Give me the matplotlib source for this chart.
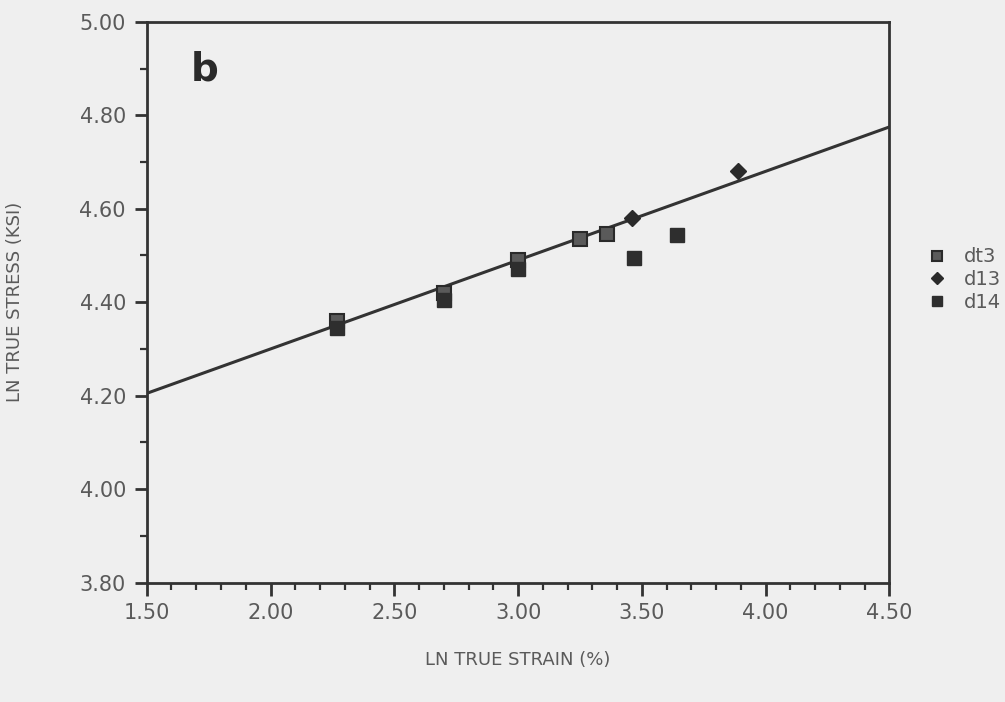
import numpy as np
from matplotlib import pyplot as plt
from matplotlib.ticker import MultipleLocator, FormatStrFormatter

# data
dt3_x = [2.27, 2.70, 3.00, 3.25, 3.36]
dt3_y = [4.36, 4.42, 4.49, 4.535, 4.545]
d13_x = [3.46, 3.89]
d13_y = [4.58, 4.68]
d14_x = [2.27, 2.70, 3.00, 3.47, 3.64]
d14_y = [4.345, 4.405, 4.47, 4.495, 4.543]
fit_x = [1.50, 4.50]
fit_y = [4.205, 4.775]

ink = '#333333'
txt = '#5a5a5a'
bg = '#efefef'

fig = plt.figure(figsize=(10.05, 7.02), dpi=100, facecolor=bg)
ax = fig.add_axes([0.146, 0.17, 0.739, 0.799])
ax.set_facecolor(bg)

ax.plot(fit_x, fit_y, color=ink, lw=2.2, zorder=2)
ax.plot(dt3_x, dt3_y, ls='none', marker='s', ms=10, mfc='#5a5a5a',
        mec='#2a2a2a', mew=1.5, label='dt3', zorder=3)
ax.plot(d13_x, d13_y, ls='none', marker='D', ms=8, mfc='#2a2a2a',
        mec='#2a2a2a', label='d13', zorder=3)
ax.plot(d14_x, d14_y, ls='none', marker='s', ms=10, mfc='#2e2e2e',
        mec='#2e2e2e', label='d14', zorder=3)

ax.set_xlim(1.5, 4.5)
ax.set_ylim(3.8, 5.0)
ax.xaxis.set_major_locator(MultipleLocator(0.5))
ax.xaxis.set_minor_locator(MultipleLocator(0.1))
ax.yaxis.set_major_locator(MultipleLocator(0.2))
ax.yaxis.set_minor_locator(MultipleLocator(0.1))
ax.xaxis.set_major_formatter(FormatStrFormatter('%.2f'))
ax.yaxis.set_major_formatter(FormatStrFormatter('%.2f'))

for s in ax.spines.values():
    s.set_color(ink)
    s.set_linewidth(2.0)

ax.tick_params(which='major', direction='out', length=9, width=2,
               color=ink, labelsize=15, labelcolor=txt, pad=6)
ax.tick_params(which='minor', direction='out', length=5, width=1.6, color=ink)

ax.set_xlabel('LN TRUE STRAIN (%)', fontsize=13, color=txt, labelpad=20)
ax.set_ylabel('LN TRUE STRESS (KSI)', fontsize=13, color=txt, labelpad=40)

ax.text(0.078, 0.914, 'b', transform=ax.transAxes, fontsize=28,
        fontweight='bold', color='#2a2a2a', va='center', ha='center')

leg = ax.legend(loc='center left', bbox_to_anchor=(1.03, 0.54),
                frameon=False, fontsize=14, handlelength=0.8,
                handletextpad=1.0, labelspacing=0.2, markerscale=0.75)
for t in leg.get_texts():
    t.set_color(txt)

fig.savefig('out.png', dpi=100, facecolor=bg)
